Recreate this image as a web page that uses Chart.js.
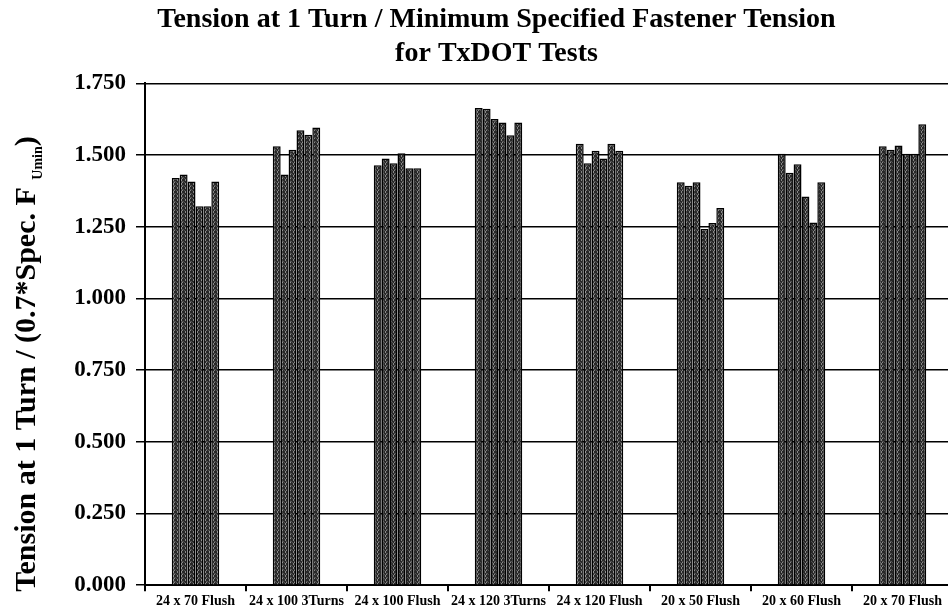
<!DOCTYPE html>
<html>
<head>
<meta charset="utf-8">
<script src="https://cdn.jsdelivr.net/npm/chart.js@4/dist/chart.umd.min.js"></script>
<style>
html,body{margin:0;padding:0;background:#fff;overflow:hidden;}
#wrap{width:955px;height:609px;}
</style>
</head>
<body>
<div id="wrap"><canvas id="c" width="955" height="609"></canvas></div>
<script>
const categories = ["24 x 70 Flush","24 x 100 3Turns","24 x 100 Flush","24 x 120 3Turns","24 x 120 Flush","20 x 50 Flush","20 x 60 Flush","20 x 70 Flush"];
const test1 = [1.420,1.531,1.464,1.664,1.539,1.405,1.504,1.531];
const test2 = [1.432,1.432,1.488,1.661,1.471,1.393,1.438,1.518];
const test3 = [1.408,1.518,1.471,1.626,1.515,1.405,1.468,1.533];
const test4 = [1.321,1.586,1.506,1.613,1.488,1.242,1.355,1.504];
const test5 = [1.321,1.571,1.454,1.569,1.539,1.263,1.265,1.504];
const test6 = [1.408,1.596,1.454,1.613,1.515,1.315,1.405,1.607];
const seriesList = [test1,test2,test3,test4,test5,test6];
const yTicks = [0,0.25,0.5,0.75,1.0,1.25,1.5,1.75];
const titleLines = ["Tension at 1 Turn / Minimum Specified Fastener Tension","for TxDOT Tests"];
const yTitleMain = "Tension at 1 Turn / (0.7*Spec. F ";
const yTitleSub = "Umin";
const yTitleEnd = ")";

// stipple pattern for bar fill
function makePattern(){
  const p = document.createElement('canvas');
  p.width = 4; p.height = 4;
  const g = p.getContext('2d');
  g.fillStyle = '#282828'; g.fillRect(0,0,4,4);
  g.fillStyle = '#888888';
  g.fillRect(1,0,1,1); g.fillRect(2,2,1,1); g.fillRect(1,3,1,1);
  g.fillStyle = '#505050';
  g.fillRect(3,1,1,1); g.fillRect(0,2,1,1); g.fillRect(2,1,1,1);
  return g.createPattern(p,'repeat');
}
const ctx = document.getElementById('c').getContext('2d');
const pat = makePattern();

const FONT = "'Liberation Serif','DejaVu Serif',serif";

const yTitlePlugin = {
  id:'yTitle',
  afterDraw(chart){
    const c = chart.ctx;
    c.save();
    c.fillStyle = '#000';
    const mainFont = "bold 30px " + FONT;
    const subFont = "bold 14px " + FONT;
    c.font = mainFont;
    const w1 = c.measureText(yTitleMain).width;
    const w3 = c.measureText(yTitleEnd).width;
    c.font = subFont;
    const w2 = c.measureText(yTitleSub).width;
    const total = w1 + w2 + w3;
    const cy = 364;
    c.translate(35, cy);
    c.rotate(-Math.PI/2);
    c.textBaseline = 'alphabetic';
    c.textAlign = 'left';
    let x = -total/2;
    c.font = mainFont;
    c.fillText(yTitleMain, x, 0);
    x += w1;
    c.font = subFont;
    c.fillText(yTitleSub, x, 7);
    x += w2;
    c.font = mainFont;
    c.fillText(yTitleEnd, x, 0);
    c.restore();
  }
};

new Chart(ctx, {
  type:'bar',
  data:{
    labels: categories,
    datasets: seriesList.map((s,i)=>({
      label:'Test '+(i+1),
      data:s,
      backgroundColor:pat,
      borderColor:'#000',
      borderWidth:1.5,
      barPercentage:1.0,
      categoryPercentage:0.47
    }))
  },
  options:{
    responsive:false,
    animation:false,
    layout:{padding:{left:40,right:2,top:0,bottom:0}},
    plugins:{
      legend:{display:false},
      tooltip:{enabled:false},
      title:{
        display:true,
        text:titleLines,
        color:'#000',
        font:{family:FONT,size:28,weight:'bold',lineHeight:1.22},
        padding:{top:3,bottom:12}
      }
    },
    scales:{
      x:{
        grid:{display:true,drawOnChartArea:false,drawTicks:true,tickLength:6,color:'#000',lineWidth:2,offset:true},
        border:{display:true,color:'#000',width:2},
        ticks:{color:'#000',font:{family:FONT,size:14,weight:'bold'},padding:2,maxRotation:0,autoSkip:false},
        afterFit(s){ s.height = 22; }
      },
      y:{
        min:0,max:1.75,
        afterBuildTicks(s){ s.ticks = yTicks.map(v=>({value:v})); },
        grid:{color:'#000',lineWidth:1.5,tickLength:9},
        border:{display:true,color:'#000',width:2},
        ticks:{color:'#000',font:{family:FONT,size:23,weight:'bold'},padding:10,
          callback:(v)=>Number(v).toFixed(3)},
        afterFit(s){ s.width = 105; }
      }
    }
  },
  plugins:[yTitlePlugin]
});
</script>
</body>
</html>
